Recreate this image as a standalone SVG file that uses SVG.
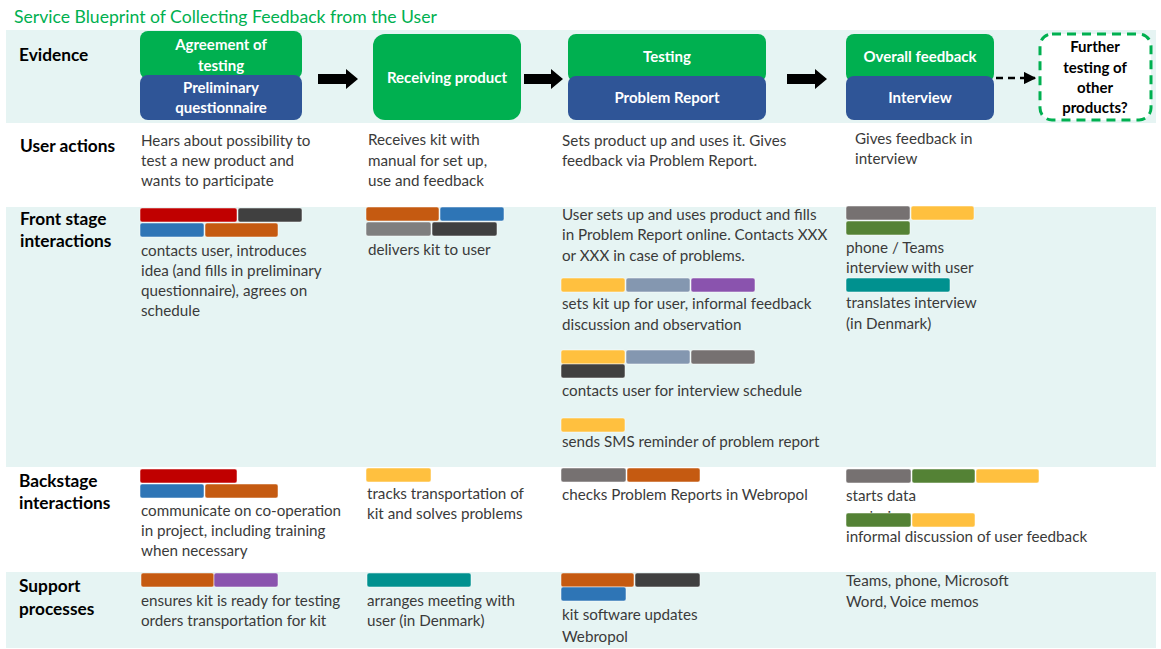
<svg xmlns="http://www.w3.org/2000/svg" width="1161" height="649" viewBox="0 0 1161 649">
  <style>
    .band { fill: #E6F4F3; }
    .title { font-family: Lato, "Liberation Sans", sans-serif; font-size: 17.6px; fill: #00B050; }
    .lane { font-family: Lato, "Liberation Sans", sans-serif; font-size: 17.3px; font-weight: bold; fill: #000; }
    .txt { font-family: Lato, "Liberation Sans", sans-serif; font-size: 15.2px; fill: #3A3A3A; }
    .box-t { font-family: Lato, "Liberation Sans", sans-serif; font-size: 15px; font-weight: bold; fill: #fff; text-anchor: middle; }
    .q-t { font-family: Lato, "Liberation Sans", sans-serif; font-size: 15px; font-weight: bold; fill: #000; text-anchor: middle; }
    .green { fill: #00B050; }
    .blue { fill: #2F5597; }
    .bar { stroke: #ffffff; stroke-opacity: 0.5; stroke-width: 1; }
    .red { fill: #C00000; }
    .dark { fill: #404040; }
    .mid { fill: #7F7F7F; }
    .warm { fill: #767171; }
    .sky { fill: #2E75B6; }
    .orange { fill: #C55A11; }
    .yellow { fill: #FFC03F; }
    .slate { fill: #8497B0; }
    .purple { fill: #8A53AE; }
    .leaf { fill: #548235; }
    .teal { fill: #00918F; }
  </style>
  <defs>
    <marker id="tip" viewBox="0 0 10 10" refX="9" refY="5" markerWidth="5" markerHeight="5" orient="auto">
      <path d="M0,0 L10,5 L0,10 z" fill="#000"/>
    </marker>
  </defs>

  <rect width="1161" height="649" fill="#fff"/>

  <!-- swimlane bands -->
  <rect class="band" x="6" y="30" width="1150" height="93"/>
  <rect class="band" x="6" y="207" width="1150" height="260"/>
  <rect class="band" x="6" y="572" width="1150" height="76"/>

  <text class="title" x="14" y="23">Service Blueprint of Collecting Feedback from the User</text>

  <!-- lane labels -->
  <g id="lane-labels">
    <text class="lane" x="19" y="61">Evidence</text>
    <text class="lane" x="20" y="152">User actions</text>
    <text class="lane" x="20" y="225">Front stage</text>
    <text class="lane" x="20" y="247">interactions</text>
    <text class="lane" x="19" y="487">Backstage</text>
    <text class="lane" x="19" y="509">interactions</text>
    <text class="lane" x="19" y="592">Support</text>
    <text class="lane" x="19" y="615">processes</text>
  </g>

  <!-- evidence nodes -->
  <g id="agreement">
    <rect class="green" x="140" y="31" width="162" height="48" rx="8"/>
    <text class="box-t" x="221" y="50">Agreement of</text>
    <text class="box-t" x="221" y="71">testing</text>
  </g>
  <g id="questionnaire">
    <rect class="blue" x="140" y="75" width="162" height="45" rx="8"/>
    <text class="box-t" x="221" y="93">Preliminary</text>
    <text class="box-t" x="221" y="113">questionnaire</text>
  </g>
  <g id="receiving">
    <rect class="green" x="373" y="34" width="148" height="86" rx="12"/>
    <text class="box-t" x="447" y="83">Receiving product</text>
  </g>
  <g id="testing">
    <rect class="green" x="568" y="34" width="198" height="48" rx="8"/>
    <text class="box-t" x="667" y="62">Testing</text>
  </g>
  <g id="problem-report">
    <rect class="blue" x="568" y="76" width="198" height="44" rx="8"/>
    <text class="box-t" x="667" y="103">Problem Report</text>
  </g>
  <g id="overall-feedback">
    <rect class="green" x="846" y="34" width="148" height="48" rx="8"/>
    <text class="box-t" x="920" y="62">Overall feedback</text>
  </g>
  <g id="interview">
    <rect class="blue" x="846" y="76" width="148" height="44" rx="8"/>
    <text class="box-t" x="920" y="103">Interview</text>
  </g>
  <g id="further-testing">
    <rect x="1040" y="34" width="111" height="86" rx="12" fill="#fff" stroke="#00B050" stroke-width="3" stroke-dasharray="9 6"/>
    <text class="q-t" x="1095" y="52">Further</text>
    <text class="q-t" x="1095" y="73">testing of</text>
    <text class="q-t" x="1095" y="93">other</text>
    <text class="q-t" x="1095" y="113">products?</text>
  </g>

  <!-- flow connectors -->
  <g id="connectors">
    <path d="M318,74 H346 V69 L358,79 L346,89 V84 H318 Z" fill="#000"/>
    <path d="M524,74 H551 V69 L563,79 L551,89 V84 H524 Z" fill="#000"/>
    <path d="M787,74 H815 V69 L827,79 L815,89 V84 H787 Z" fill="#000"/>
    <line x1="996" y1="78" x2="1035" y2="78" stroke="#000" stroke-width="2.5" stroke-dasharray="7 5" marker-end="url(#tip)"/>
  </g>

  <!-- user actions -->
  <g id="user-actions">
    <text class="txt" x="141" y="146">Hears about possibility to</text>
    <text class="txt" x="141" y="166">test a new product and</text>
    <text class="txt" x="141" y="186">wants to participate</text>
    <text class="txt" x="368" y="145">Receives kit with</text>
    <text class="txt" x="368" y="166">manual for set up,</text>
    <text class="txt" x="368" y="186">use and feedback</text>
    <text class="txt" x="562" y="146">Sets product up and uses it. Gives</text>
    <text class="txt" x="562" y="166">feedback via Problem Report.</text>
    <text class="txt" x="855" y="144">Gives feedback in</text>
    <text class="txt" x="855" y="164">interview</text>
  </g>

  <!-- front stage interactions -->
  <g id="front-stage-1">
    <rect class="bar red" x="140" y="208" width="97" height="14" rx="2"/>
    <rect class="bar dark" x="238" y="208" width="64" height="14" rx="2"/>
    <rect class="bar sky" x="140" y="223" width="64" height="14" rx="2"/>
    <rect class="bar orange" x="205" y="223" width="73" height="14" rx="2"/>
    <text class="txt" x="141" y="256">contacts user, introduces</text>
    <text class="txt" x="141" y="276">idea (and fills in preliminary</text>
    <text class="txt" x="141" y="296">questionnaire), agrees on</text>
    <text class="txt" x="141" y="316">schedule</text>
  </g>
  <g id="front-stage-2">
    <rect class="bar orange" x="366" y="207" width="73" height="14" rx="2"/>
    <rect class="bar sky" x="440" y="207" width="64" height="14" rx="2"/>
    <rect class="bar mid" x="366" y="222" width="65" height="14" rx="2"/>
    <rect class="bar dark" x="432" y="222" width="65" height="14" rx="2"/>
    <text class="txt" x="368" y="255">delivers kit to user</text>
  </g>
  <g id="front-stage-3">
    <text class="txt" x="562" y="220">User sets up and uses product and fills</text>
    <text class="txt" x="562" y="240">in Problem Report online. Contacts XXX</text>
    <text class="txt" x="562" y="261">or XXX in case of problems.</text>
    <rect class="bar yellow" x="561" y="278" width="64" height="14" rx="2"/>
    <rect class="bar slate" x="626" y="278" width="64" height="14" rx="2"/>
    <rect class="bar purple" x="691" y="278" width="64" height="14" rx="2"/>
    <text class="txt" x="562" y="309">sets kit up for user, informal feedback</text>
    <text class="txt" x="562" y="330">discussion and observation</text>
    <rect class="bar yellow" x="561" y="350" width="64" height="14" rx="2"/>
    <rect class="bar slate" x="626" y="350" width="64" height="14" rx="2"/>
    <rect class="bar warm" x="691" y="350" width="64" height="14" rx="2"/>
    <rect class="bar dark" x="561" y="364" width="64" height="14" rx="2"/>
    <text class="txt" x="562" y="396">contacts user for interview schedule</text>
    <rect class="bar yellow" x="561" y="418" width="64" height="14" rx="2"/>
    <text class="txt" x="562" y="447">sends SMS reminder of problem report</text>
  </g>
  <g id="front-stage-4">
    <rect class="bar warm" x="846" y="206" width="64" height="14" rx="2"/>
    <rect class="bar yellow" x="911" y="206" width="63" height="14" rx="2"/>
    <rect class="bar leaf" x="846" y="221" width="64" height="14" rx="2"/>
    <text class="txt" x="846" y="253">phone / Teams</text>
    <text class="txt" x="846" y="273">interview with user</text>
    <rect class="bar teal" x="846" y="278" width="104" height="14" rx="2"/>
    <text class="txt" x="846" y="308">translates interview</text>
    <text class="txt" x="846" y="329">(in Denmark)</text>
  </g>

  <!-- backstage interactions -->
  <g id="backstage-1">
    <rect class="bar red" x="140" y="469" width="97" height="14" rx="2"/>
    <rect class="bar sky" x="140" y="484" width="64" height="14" rx="2"/>
    <rect class="bar orange" x="205" y="484" width="73" height="14" rx="2"/>
    <text class="txt" x="141" y="516">communicate on co-operation</text>
    <text class="txt" x="141" y="536">in project, including training</text>
    <text class="txt" x="141" y="556">when necessary</text>
  </g>
  <g id="backstage-2">
    <rect class="bar yellow" x="366" y="468" width="65" height="14" rx="2"/>
    <text class="txt" x="367" y="499">tracks transportation of</text>
    <text class="txt" x="367" y="519">kit and solves problems</text>
  </g>
  <g id="backstage-3">
    <rect class="bar warm" x="561" y="468" width="65" height="14" rx="2"/>
    <rect class="bar orange" x="627" y="468" width="73" height="14" rx="2"/>
    <text class="txt" x="562" y="500">checks Problem Reports in Webropol</text>
  </g>
  <g id="backstage-4">
    <rect class="bar warm" x="846" y="469" width="65" height="14" rx="2"/>
    <rect class="bar leaf" x="912" y="469" width="63" height="14" rx="2"/>
    <rect class="bar yellow" x="976" y="469" width="63" height="14" rx="2"/>
    <text class="txt" x="846" y="501">starts data</text>
    <!-- second line of the note sits under the next row of colour tags -->
    <text class="txt" x="846" y="522">analysis</text>
    <rect class="bar leaf" x="846" y="513" width="65" height="14" rx="2"/>
    <rect class="bar yellow" x="912" y="513" width="63" height="14" rx="2"/>
    <text class="txt" x="846" y="542">informal discussion of user feedback</text>
  </g>

  <!-- support processes -->
  <g id="support-1">
    <rect class="bar orange" x="141" y="573" width="73" height="14" rx="2"/>
    <rect class="bar purple" x="214" y="573" width="64" height="14" rx="2"/>
    <text class="txt" x="141" y="606">ensures kit is ready for testing</text>
    <text class="txt" x="141" y="626">orders transportation for kit</text>
  </g>
  <g id="support-2">
    <rect class="bar teal" x="367" y="573" width="104" height="14" rx="2"/>
    <text class="txt" x="367" y="606">arranges meeting with</text>
    <text class="txt" x="367" y="626">user (in Denmark)</text>
  </g>
  <g id="support-3">
    <rect class="bar orange" x="561" y="573" width="73" height="14" rx="2"/>
    <rect class="bar dark" x="635" y="573" width="65" height="14" rx="2"/>
    <rect class="bar sky" x="561" y="587" width="65" height="14" rx="2"/>
    <text class="txt" x="562" y="620">kit software updates</text>
    <text class="txt" x="562" y="642">Webropol</text>
  </g>
  <g id="support-4">
    <text class="txt" x="846" y="586">Teams, phone, Microsoft</text>
    <text class="txt" x="846" y="607">Word, Voice memos</text>
  </g>
</svg>
